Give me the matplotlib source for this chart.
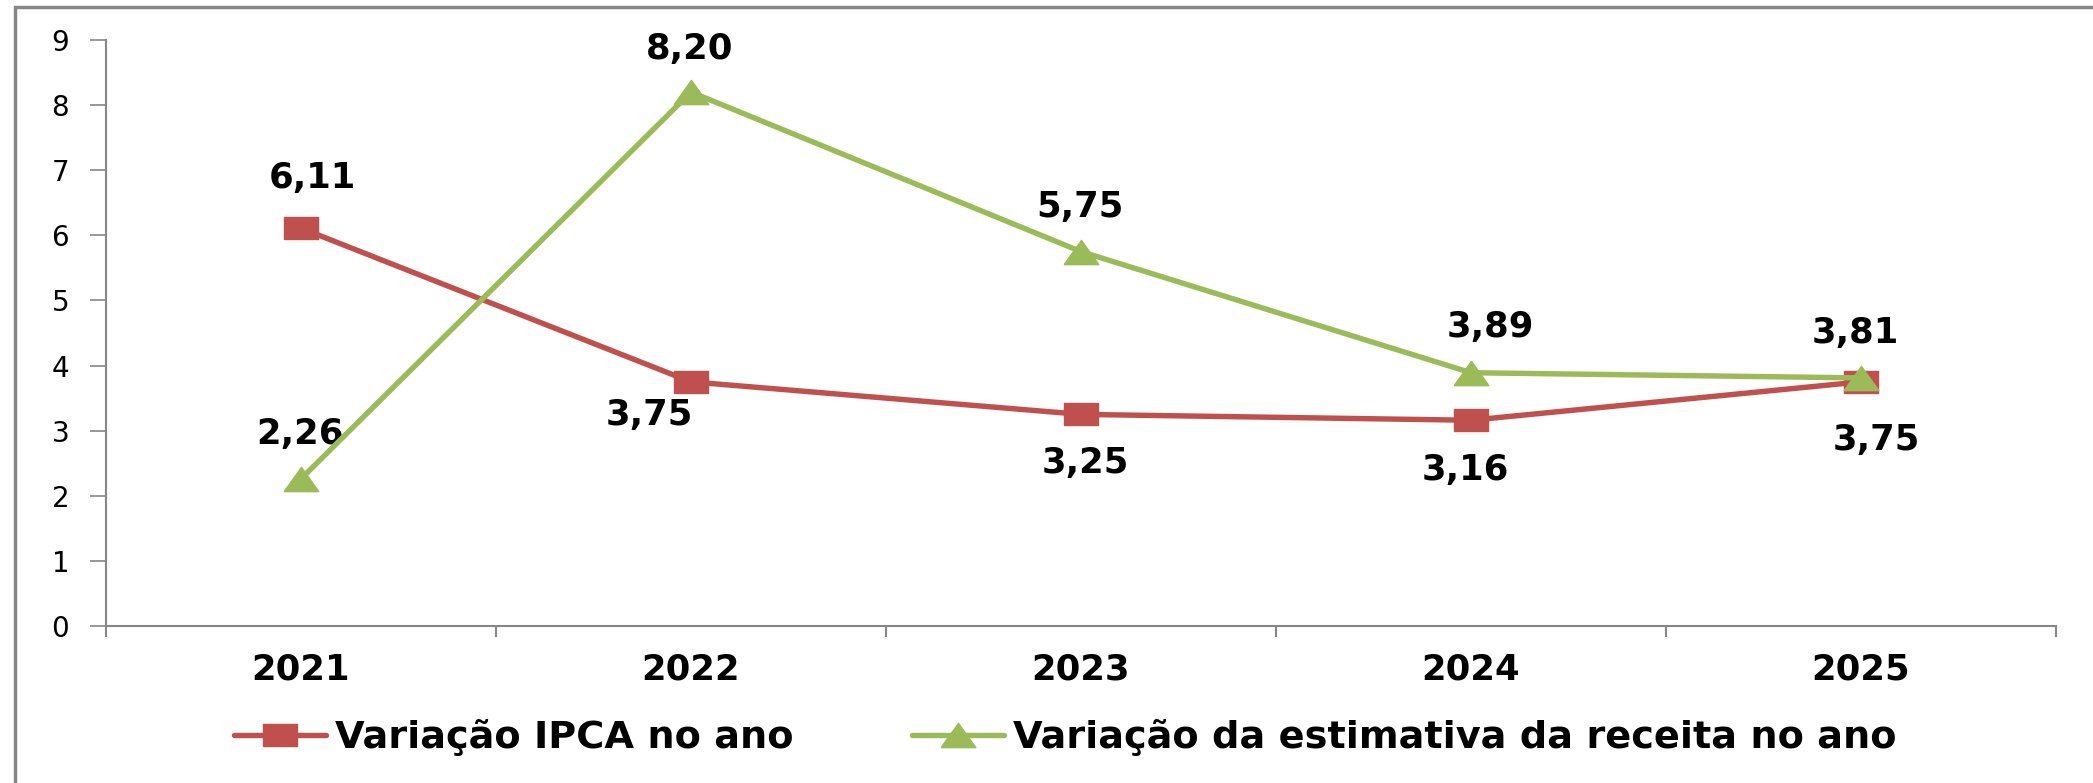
import matplotlib
matplotlib.use('Agg')
import matplotlib.pyplot as plt
from matplotlib.patches import Rectangle
from matplotlib.ticker import FixedLocator

anos = ['2021', '2022', '2023', '2024', '2025']
ipca = [6.11, 3.75, 3.25, 3.16, 3.75]
receita = [2.26, 8.20, 5.75, 3.89, 3.81]
ipca_txt = ['6,11', '3,75', '3,25', '3,16', '3,75']
receita_txt = ['2,26', '8,20', '5,75', '3,89', '3,81']
nome_ipca = 'Variação IPCA no ano'
nome_receita = 'Variação da estimativa da receita no ano'

vermelho = '#C0504D'
verde = '#9BBB59'
cinza = '#868686'

# markers achatados (o grafico original esta esticado na horizontal)
quad = [(-1, -0.64), (1, -0.64), (1, 0.64), (-1, 0.64), (-1, -0.64)]
tri = [(-1, -0.7), (1, -0.7), (0, 0.7), (-1, -0.7)]

plt.rcParams['font.family'] = ['DejaVu Sans']

fig = plt.figure(figsize=(20.93, 7.83), dpi=100)
ax = fig.add_axes([106/2093, 1 - 626/783, (2056 - 106)/2093, (626 - 40)/783])

x = list(range(len(anos)))
ax.plot(x, ipca, color=vermelho, lw=3.9, marker=quad, ms=25, label=nome_ipca,
        solid_capstyle='round', zorder=3)
ax.plot(x, receita, color=verde, lw=3.9, marker=tri, ms=25, label=nome_receita,
        solid_capstyle='round', zorder=4)

# deslocamentos dos rotulos (pontos)
off_ipca = [(8, 36), (-30, -24), (3, -35), (-4, -36), (11, -42)]
off_receita = [(-1, 32), (-1, 31), (-1, 32), (14, 33), (-4, 32)]
for i in x:
    ax.annotate(ipca_txt[i], (i, ipca[i]), xytext=off_ipca[i], textcoords='offset points',
                ha='center', va='center', fontsize=25.5, fontweight='bold', color='black')
    ax.annotate(receita_txt[i], (i, receita[i]), xytext=off_receita[i], textcoords='offset points',
                ha='center', va='center', fontsize=25.5, fontweight='bold', color='black')

ax.set_xlim(-0.5, len(anos) - 0.5)
ax.set_ylim(0, 9)
ax.set_yticks(range(0, 10))
ax.set_xticks(x)
ax.set_xticklabels(anos, fontsize=25.5, fontweight='bold')
ax.xaxis.set_minor_locator(FixedLocator([i - 0.5 for i in range(len(anos) + 1)]))
ax.tick_params(axis='x', which='major', length=0, pad=19)
ax.tick_params(axis='x', which='minor', length=8, width=1.5, color=cinza, direction='out')
ax.tick_params(axis='y', length=11.5, width=1.2, color=cinza, labelsize=20, pad=15)

for s in ['top', 'right']:
    ax.spines[s].set_visible(False)
for s in ['left', 'bottom']:
    ax.spines[s].set_color(cinza)
    ax.spines[s].set_linewidth(1.5)

fig.legend(loc='center', bbox_to_anchor=(0.509, 1 - 738/783), ncol=2, frameon=False,
           prop={'size': 27.5, 'weight': 'bold'}, handlelength=2.4, handletextpad=0.25,
           columnspacing=3.1)

# moldura externa (cortada a direita e embaixo)
fig.patches.append(Rectangle((15/2093, -0.1), 1.2, 1 - 7/783 + 0.1, transform=fig.transFigure,
                             fill=False, edgecolor=cinza, lw=2.5, zorder=0))

fig.savefig('out.png', dpi=100)
